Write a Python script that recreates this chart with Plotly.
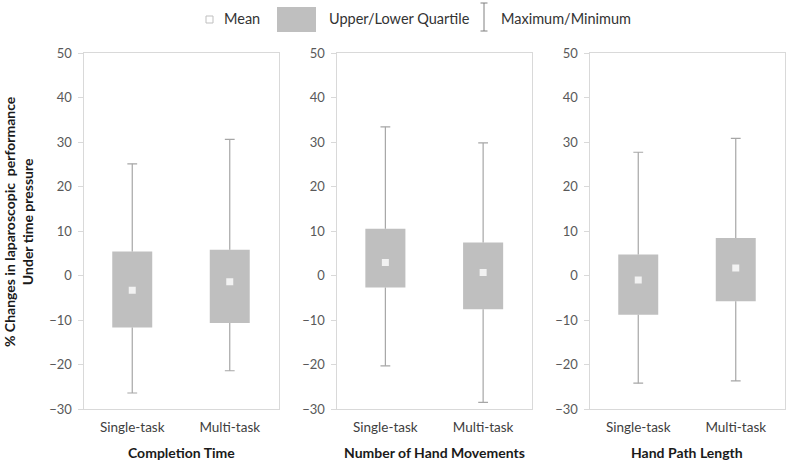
import plotly.graph_objects as go

categories = ["Single-task", "Multi-task"]
panel_titles = ["Completion Time", "Number of Hand Movements", "Hand Path Length"]
means = [[-3.3, -1.4], [2.9, 0.7], [-1.0, 1.7]]
q1 = [[-11.7, -10.7], [-2.7, -7.6], [-8.8, -5.8]]
q3 = [[5.4, 5.8], [10.5, 7.4], [4.7, 8.4]]
mins = [[-26.4, -21.4], [-20.3, -28.5], [-24.2, -23.7]]
maxs = [[25.1, 30.6], [33.4, 29.8], [27.7, 30.8]]
y_ticks = [-30, -20, -10, 0, 10, 20, 30, 40, 50]

W, H = 787, 462
BOX = "#bfbfbf"
WHISK = "#a6a6a6"
FRAME = "#d9d9d9"
FONT = "Lato"

panel_px = [(83.5, 278.5), (336.5, 532.0), (589.5, 784.5)]
ydom = [1 - 409 / H, 1 - 53 / H]

fig = go.Figure()
for i in range(3):
    sfx = "" if i == 0 else str(i + 1)
    xa, ya = "x" + sfx, "y" + sfx
    fig.add_trace(go.Bar(
        x=categories, y=[q3[i][k] - q1[i][k] for k in range(2)], base=q1[i],
        width=0.41, marker=dict(color=BOX, line=dict(width=0)),
        xaxis=xa, yaxis=ya, hoverinfo="skip"))
    wx, wy = [], []
    for k, c in enumerate(categories):
        wx += [c, c, c, c, c, c]
        wy += [maxs[i][k], q3[i][k], None, q1[i][k], mins[i][k], None]
    fig.add_trace(go.Scatter(x=wx, y=wy, mode="lines",
                             line=dict(color=WHISK, width=1.2),
                             xaxis=xa, yaxis=ya, hoverinfo="skip"))
    cx, cy = [], []
    for k, c in enumerate(categories):
        cx += [c, c]
        cy += [maxs[i][k], mins[i][k]]
    fig.add_trace(go.Scatter(x=cx, y=cy, mode="markers",
                             marker=dict(symbol="line-ew", size=7,
                                         line=dict(color=WHISK, width=1.2)),
                             xaxis=xa, yaxis=ya, hoverinfo="skip"))
    fig.add_trace(go.Scatter(x=categories, y=means[i], mode="markers",
                             marker=dict(symbol="square", size=7, color="#f2f2f2",
                                         line=dict(width=0)),
                             xaxis=xa, yaxis=ya, hoverinfo="skip"))
    l, r = panel_px[i]
    fig.layout["xaxis" + sfx] = dict(
        domain=[l / W, r / W], anchor=ya, type="category",
        categoryorder="array", categoryarray=categories, range=[-0.5, 1.5],
        showline=True, linecolor=FRAME, linewidth=1, mirror=True,
        ticks="", showgrid=False, zeroline=False, fixedrange=True,
        tickfont=dict(family=FONT, size=13.5, color="#404040"),
        ticklabelstandoff=6, automargin=False)
    fig.layout["yaxis" + sfx] = dict(
        domain=ydom, anchor=xa, range=[-30, 50], tickvals=y_ticks,
        showline=True, linecolor=FRAME, linewidth=1, mirror=True,
        ticks="outside", ticklen=5, tickcolor=FRAME, showgrid=False,
        zeroline=False, fixedrange=True,
        tickfont=dict(family=FONT, size=13, color="#595959"),
        ticklabelstandoff=3, automargin=False)
    fig.add_annotation(text="<b>" + panel_titles[i] + "</b>", xref="paper", yref="paper",
                       x=(l + r) / 2 / W, y=1 - 452.5 / H, xanchor="center", yanchor="middle",
                       showarrow=False, font=dict(family=FONT, size=14, color="#1a1a1a"))

# y-axis title
fig.add_annotation(text="<b>% Changes in laparoscopic  performance<br>Under time pressure</b>",
                   xref="paper", yref="paper", x=18 / W, y=1 - 222 / H, textangle=-90,
                   xanchor="center", yanchor="middle", showarrow=False,
                   font=dict(family=FONT, size=14, color="#1a1a1a"))

# legend
def px(x):
    return x / W

def py(y):
    return 1 - y / H

shapes = [
    dict(type="rect", xref="paper", yref="paper", x0=px(206), x1=px(213), y0=py(23), y1=py(16),
         fillcolor="#ffffff", line=dict(color="#bfbfbf", width=1)),
    dict(type="rect", xref="paper", yref="paper", x0=px(277), x1=px(316), y0=py(32), y1=py(7),
         fillcolor=BOX, line=dict(width=0)),
    dict(type="line", xref="paper", yref="paper", x0=px(484), x1=px(484), y0=py(31), y1=py(3),
         line=dict(color="#808080", width=1)),
    dict(type="line", xref="paper", yref="paper", x0=px(480.5), x1=px(487.5), y0=py(3), y1=py(3),
         line=dict(color="#808080", width=1)),
    dict(type="line", xref="paper", yref="paper", x0=px(480.5), x1=px(487.5), y0=py(31), y1=py(31),
         line=dict(color="#808080", width=1)),
]
fig.update_layout(shapes=shapes)
for txt, x0 in [("Mean", 222), ("Upper/Lower Quartile", 327), ("Maximum/Minimum", 499)]:
    fig.add_annotation(text=txt, xref="paper", yref="paper", x=px(x0), y=py(19),
                       xanchor="left", yanchor="middle", showarrow=False,
                       font=dict(family=FONT, size=14.5, color="#333333"))

fig.update_layout(width=W, height=H, margin=dict(l=0, r=0, t=0, b=0),
                  paper_bgcolor="white", plot_bgcolor="white", showlegend=False,
                  barmode="overlay", font=dict(family=FONT))

fig.write_html("out.html", config={"displayModeBar": False, "staticPlot": True},
               post_script="document.body.style.margin='0';document.body.style.overflow='hidden';")
